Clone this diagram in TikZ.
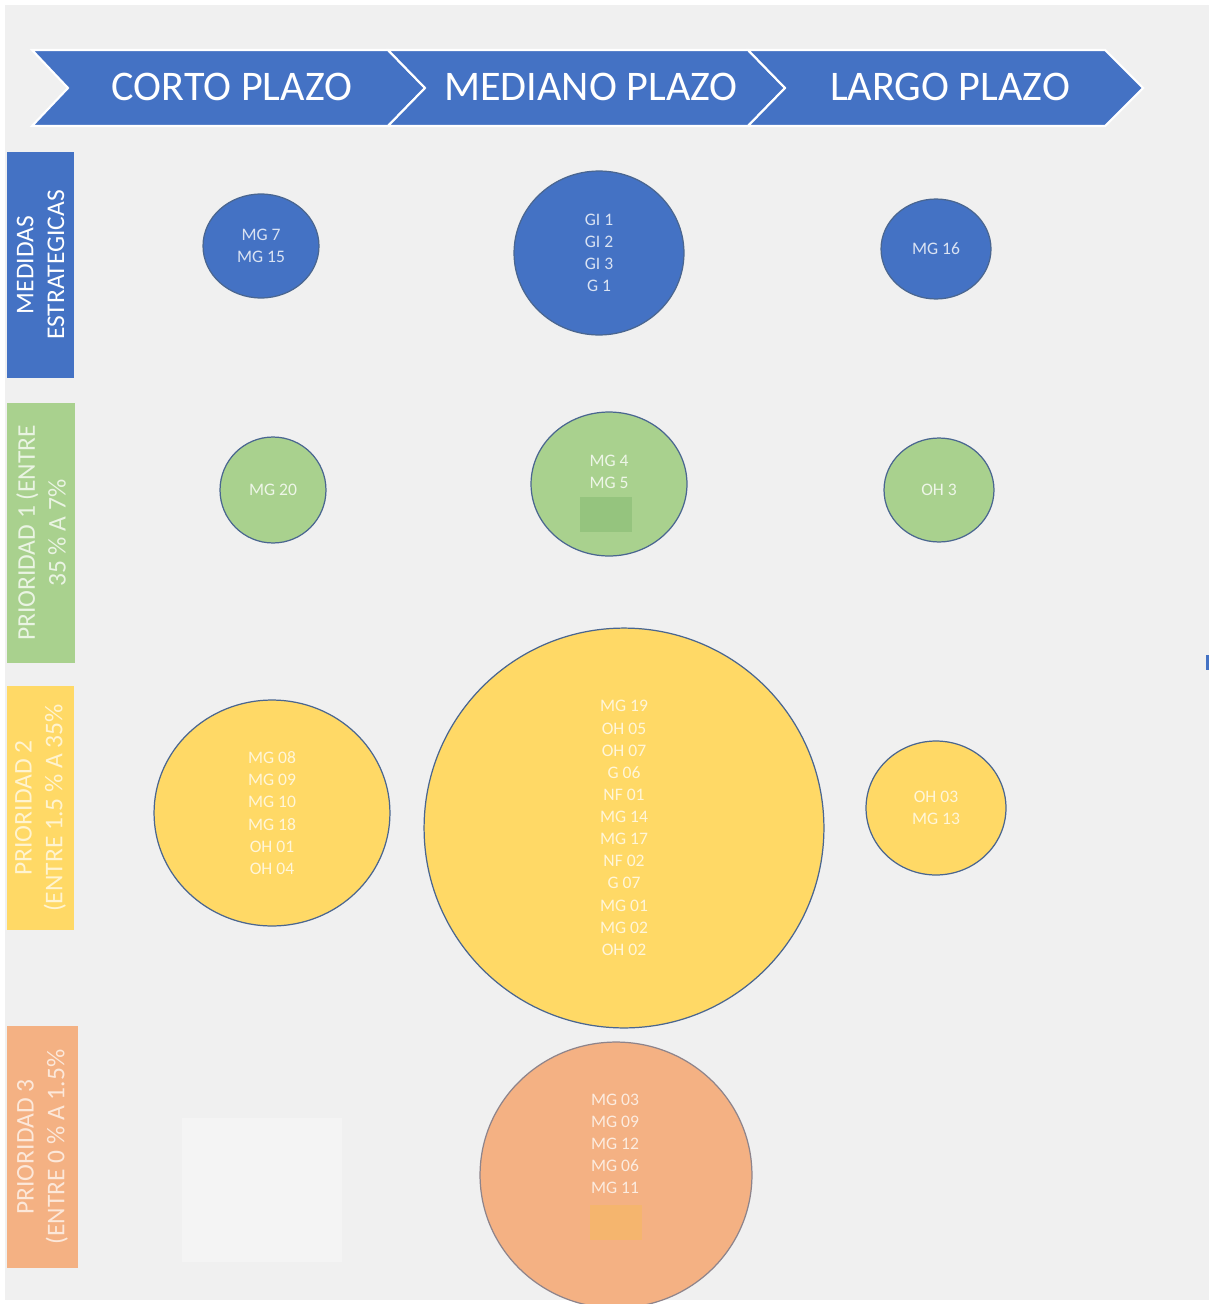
\documentclass[tikz,border=0pt]{standalone}
\usepackage{fontspec}
\setmainfont{Carlito}
\usetikzlibrary{shapes.geometric}

\definecolor{bgGray}{HTML}{F0F0F0}
\definecolor{plBlue}{HTML}{4472C4}
\definecolor{plGreen}{HTML}{A9D18E}
\definecolor{plYellow}{HTML}{FFD966}
\definecolor{plOrange}{HTML}{F4B183}
\definecolor{bubLine}{HTML}{4A6690}
\definecolor{patchGreen}{HTML}{95C47E}
\definecolor{patchOrange}{HTML}{F5B56E}

\tikzset{
  banner/.style={fill=plBlue, draw=white, line width=1.2pt, line join=miter},
  head/.style={text=white, font=\fontsize{24}{28}\selectfont},
  tag/.style={rectangle, rotate=90, inner sep=0pt, align=center,
    font=\fontsize{14.5}{17.5}\selectfont},
  bubble/.style={ellipse, draw=bubLine, line width=0.7pt, inner sep=0pt,
    align=center, font=\fontsize{10}{12.6}\selectfont},
  bsize/.style 2 args={minimum width=#1*0.04cm, minimum height=#2*0.04cm},
  txt/.style={align=center, inner sep=0pt, font=\fontsize{10}{12.6}\selectfont}
}

\begin{document}
\begin{tikzpicture}[x=0.02cm, y=-0.02cm]
    \useasboundingbox (0,0) rectangle (1209,1304);
    \fill[white] (0,0) rectangle (1209,1304);
    \fill[bgGray] (5,5) rectangle (1209,1300);
    \fill[plBlue] (1206,655) rectangle (1209,670);

    % Banner
    \filldraw[banner] (32,50) -- (388,50) -- (425,88) -- (388,126) -- (32,126) -- (68,88) -- cycle;
    \filldraw[banner] (388,50) -- (748,50) -- (785,88) -- (748,126) -- (388,126) -- (425,88) -- cycle;
    \filldraw[banner] (748,50) -- (1105,50) -- (1143,88) -- (1105,126) -- (748,126) -- (785,88) -- cycle;
    \node[head] (corto) at (232,87) {CORTO PLAZO};
    \node[head] (mediano) at (591,87) {MEDIANO PLAZO};
    \node[head] (largo) at (950,87) {LARGO PLAZO};

    % Row labels
    \node[tag, fill=plBlue, text=white, minimum width=226*0.02cm, minimum height=67*0.02cm]
        (medidas) at (40.5,265) {MEDIDAS\\ESTRATEGICAS};
    \node[tag, fill=plGreen, text=white!75!plGreen, minimum width=260*0.02cm, minimum height=68*0.02cm]
        (prio1) at (41,533) {PRIORIDAD 1 (ENTRE\\35 \% A 7\%};
    \node[tag, fill=plYellow, text=white!70!plYellow, minimum width=244*0.02cm, minimum height=67*0.02cm]
        (prio2) at (40.5,808) {PRIORIDAD 2\\(ENTRE 1.5 \% A 35\%};
    \node[tag, fill=plOrange, text=white!70!plOrange, minimum width=242*0.02cm, minimum height=71*0.02cm]
        (prio3) at (42.5,1147) {PRIORIDAD 3\\(ENTRE 0 \% A 1.5\%};

    % Medidas estrategicas
    \node[bubble, bsize={58}{52}, fill=plBlue, text=white!80!plBlue] (b1) at (261,246) {MG 7\\MG 15};
    \node[bubble, bsize={85}{82}, fill=plBlue, text=white!80!plBlue] (b2) at (599,253) {GI 1\\GI 2\\GI 3\\G 1};
    \node[bubble, bsize={55}{50}, fill=plBlue, text=white!80!plBlue] (b3) at (936,249) {MG 16};

    % Prioridad 1
    \node[bubble, bsize={53}{53}, fill=plGreen, text=white!80!plGreen] (g1) at (273,490) {MG 20};
    \node[bubble, bsize={78}{72}, fill=plGreen] (g2) at (609,484) {};
    \node[txt, text=white!80!plGreen] (g2t) at (609,472) {MG 4\\MG 5};
    \fill[patchGreen] (580,497) rectangle (632,532);
    \node[bubble, bsize={55}{52}, fill=plGreen, text=white!80!plGreen] (g3) at (939,490) {OH 3};

    % Prioridad 2
    \node[bubble, bsize={118}{113}, fill=plYellow, text=white!75!plYellow] (y1) at (272,813)
        {MG 08\\MG 09\\MG 10\\MG 18\\OH 01\\OH 04};
    \node[bubble, bsize={200}{200}, fill=plYellow, text=white!75!plYellow] (y2) at (624,828)
        {MG 19\\OH 05\\OH 07\\G 06\\NF 01\\MG 14\\MG 17\\NF 02\\G 07\\MG 01\\MG 02\\OH 02};
    \node[bubble, bsize={70}{67}, fill=plYellow, text=white!75!plYellow] (y3) at (936,808) {OH 03\\MG 13};

    % Prioridad 3
    \fill[white!25!bgGray] (182,1118) rectangle (342,1262);
    \node[bubble, bsize={136}{133}, fill=plOrange, draw=bubLine!60!plOrange] (o1) at (616,1175) {};
    \node[txt, text=white!75!plOrange] (o1t) at (615,1144) {MG 03\\MG 09\\MG 12\\MG 06\\MG 11};
    \fill[patchOrange] (590,1205) rectangle (642,1240);
\end{tikzpicture}
\end{document}
